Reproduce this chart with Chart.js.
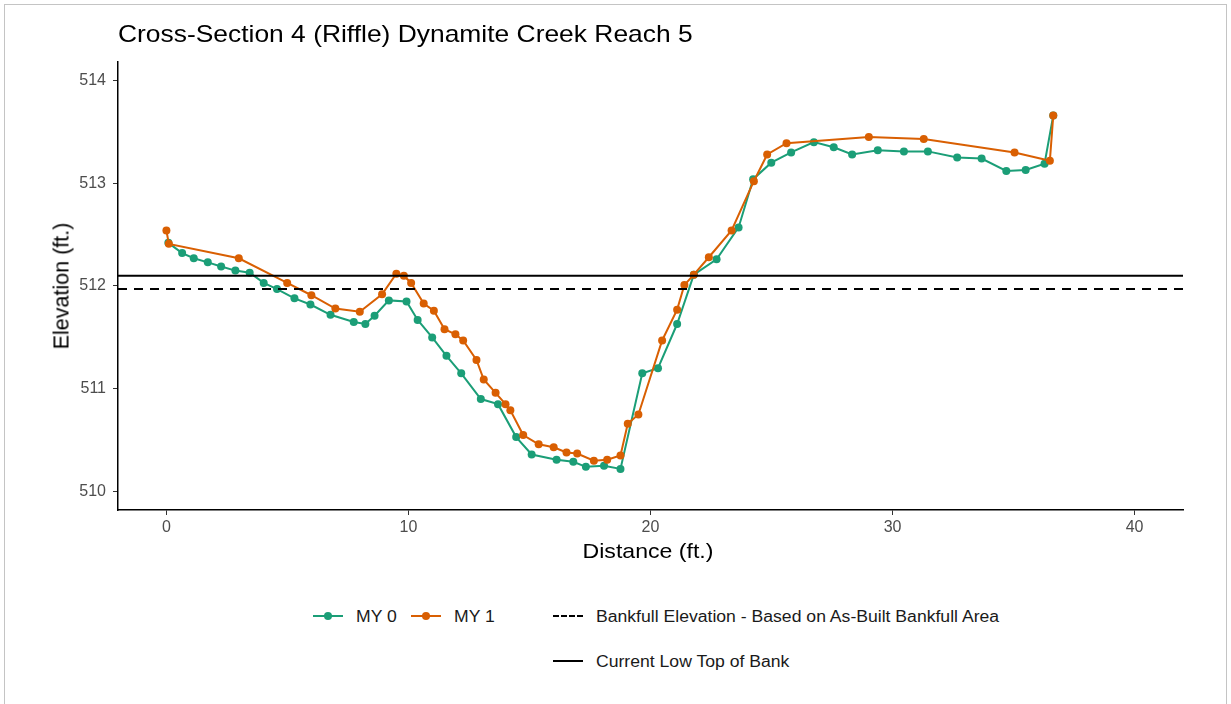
<!DOCTYPE html>
<html>
<head>
<meta charset="utf-8">
<script src="https://cdn.jsdelivr.net/npm/chart.js"></script>
<style>
body{margin:0;background:#fff;font-family:"Liberation Sans",Arial,sans-serif;}
#wrap{position:relative;width:1231px;height:704px;overflow:hidden;}
#frame{position:absolute;left:4px;top:4px;width:1221px;height:720px;border:1px solid #c4c4c4;}
#box{position:absolute;left:0;top:0;width:1231px;height:580px;}
.txt{position:absolute;white-space:nowrap;color:#000;}
#title{left:118px;top:20px;font-size:24px;transform:scaleX(1.1);transform-origin:left center;}
#xtitle{left:0;width:1296px;text-align:center;top:539px;font-size:21px;transform:scaleX(1.1);transform-origin:648px center;}
#ytitle{left:62px;top:286px;font-size:21.5px;transform:translate(-50%,-50%) rotate(-90deg);}
.leg{position:absolute;font-size:16px;color:#1a1a1a;white-space:nowrap;transform:scaleX(1.1);transform-origin:left center;}
.key{position:absolute;width:30px;height:0;}
.dot{position:absolute;left:11px;top:-4px;width:8px;height:8px;border-radius:50%;}
</style>
</head>
<body>
<div id="wrap">
<div id="frame"></div>
<div id="box"><canvas id="chart"></canvas></div>
<div class="txt" id="title">Cross-Section 4 (Riffle) Dynamite Creek Reach 5</div>
<div class="txt" id="xtitle">Distance (ft.)</div>
<div class="txt" id="ytitle">Elevation (ft.)</div>
<div id="legend"></div>
</div>
<script>
// MY 0 survey
const myZeroDistance = [0.08,0.65,1.13,1.71,2.26,2.85,3.44,4.02,4.57,5.29,5.95,6.78,7.74,8.22,8.60,9.19,9.92,10.38,10.98,11.57,12.18,12.99,13.70,14.45,15.09,16.12,16.81,17.33,18.08,18.76,19.66,20.31,21.10,21.79,22.73,23.64,24.24,24.99,25.81,26.75,27.57,28.33,29.39,30.47,31.46,32.67,33.68,34.70,35.50,36.28,36.64];
const myZeroElevation = [512.42,512.32,512.27,512.23,512.19,512.15,512.13,512.03,511.97,511.88,511.82,511.72,511.65,511.63,511.71,511.86,511.85,511.67,511.50,511.32,511.15,510.90,510.85,510.53,510.36,510.31,510.29,510.24,510.25,510.22,511.15,511.20,511.63,512.11,512.26,512.57,513.04,513.20,513.30,513.40,513.35,513.28,513.32,513.31,513.31,513.25,513.24,513.12,513.13,513.19,513.66];

// MY 1 survey
const myOneDistance = [0.0,0.1,2.99,4.99,5.99,6.98,7.99,8.91,9.50,9.81,10.11,10.63,11.05,11.49,11.94,12.26,12.81,13.11,13.60,14.01,14.21,14.74,15.38,16.00,16.53,16.97,17.66,18.21,18.76,19.06,19.50,20.48,21.10,21.40,21.79,22.41,23.35,24.27,24.82,25.62,29.02,31.29,35.04,36.50,36.64];
const myOneElevation = [512.54,512.41,512.27,512.03,511.91,511.78,511.75,511.92,512.12,512.10,512.03,511.83,511.76,511.58,511.53,511.47,511.28,511.09,510.96,510.85,510.79,510.55,510.46,510.43,510.38,510.37,510.30,510.31,510.35,510.66,510.75,511.47,511.77,512.01,512.11,512.28,512.54,513.02,513.28,513.39,513.45,513.43,513.30,513.22,513.66];

const bankfullElevation = 511.97;
const lowTopOfBank = 512.10;

const xTicks = [0,10,20,30,40];
const yTicks = [510,511,512,513,514];
const xRange = [-2,42];
const yRange = [509.82,514.18];

const green = "#1b9e77";
const orange = "#d95f02";

function pts(xs,ys){
return xs.map((x,i)=>({x:x,y:ys[i]}));
}
function flat(v){
return xRange.map(x=>({x:x,y:v}));
}

new Chart(
document.getElementById("chart"),
{
type:"scatter",
data:{
datasets:[
{
label:"MY 1",
data:pts(myOneDistance,myOneElevation),
showLine:true,
borderColor:orange,
backgroundColor:orange,
borderWidth:2,
pointRadius:4,
pointBorderWidth:0,
order:1
},
{
label:"MY 0",
data:pts(myZeroDistance,myZeroElevation),
showLine:true,
borderColor:green,
backgroundColor:green,
borderWidth:2,
pointRadius:4,
pointBorderWidth:0,
order:2
},
{
label:"Bankfull Elevation - Based on As-Built Bankfull Area",
data:flat(bankfullElevation),
showLine:true,
borderColor:"#000",
borderWidth:2,
borderDash:[9,7],
pointRadius:0,
order:0
},
{
label:"Current Low Top of Bank",
data:flat(lowTopOfBank),
showLine:true,
borderColor:"#000",
borderWidth:2,
pointRadius:0,
order:0
}
]
},
options:{
responsive:true,
maintainAspectRatio:false,
animation:false,
layout:{padding:{top:62,right:48,left:0,bottom:0}},
plugins:{
legend:{display:false},
tooltip:{enabled:false}
},
scales:{
x:{
type:"linear",
min:xRange[0],
max:xRange[1],
afterBuildTicks:s=>{s.ticks=xTicks.map(v=>({value:v}));},
afterFit:s=>{s.height=70;},
ticks:{color:"#4d4d4d",font:{size:16,family:"Liberation Sans"},padding:3},
grid:{drawOnChartArea:false,drawTicks:true,tickLength:5,color:"#333"},
border:{display:true,color:"#000",width:1.5}
},
y:{
type:"linear",
min:yRange[0],
max:yRange[1],
afterBuildTicks:s=>{s.ticks=yTicks.map(v=>({value:v}));},
afterFit:s=>{s.width=118;},
ticks:{color:"#4d4d4d",font:{size:16,family:"Liberation Sans"},padding:7},
grid:{drawOnChartArea:false,drawTicks:true,tickLength:5,color:"#333"},
border:{display:true,color:"#000",width:1.5}
}
}
}
}
);

// legend below the plot
const legendItems = [
{label:"MY 0",color:green,dot:true,x:313,y:616},
{label:"MY 1",color:orange,dot:true,x:411,y:616},
{label:"Bankfull Elevation - Based on As-Built Bankfull Area",color:"#000",dash:true,x:553,y:616},
{label:"Current Low Top of Bank",color:"#000",x:553,y:661}
];
const legend = document.getElementById("legend");
legendItems.forEach(it=>{
const k = document.createElement("div");
k.className="key";
k.style.left=it.x+"px";
k.style.top=(it.y-1)+"px";
k.style.borderTop=(it.dash?"2px dashed ":"2px solid ")+it.color;
if(it.dot){
const d=document.createElement("div");
d.className="dot";
d.style.background=it.color;
d.style.top="-5px";
k.appendChild(d);
}
legend.appendChild(k);
const t=document.createElement("div");
t.className="leg";
t.textContent=it.label;
t.style.left=(it.x+43)+"px";
t.style.top=(it.y-8)+"px";
legend.appendChild(t);
});
</script>
</body>
</html>
